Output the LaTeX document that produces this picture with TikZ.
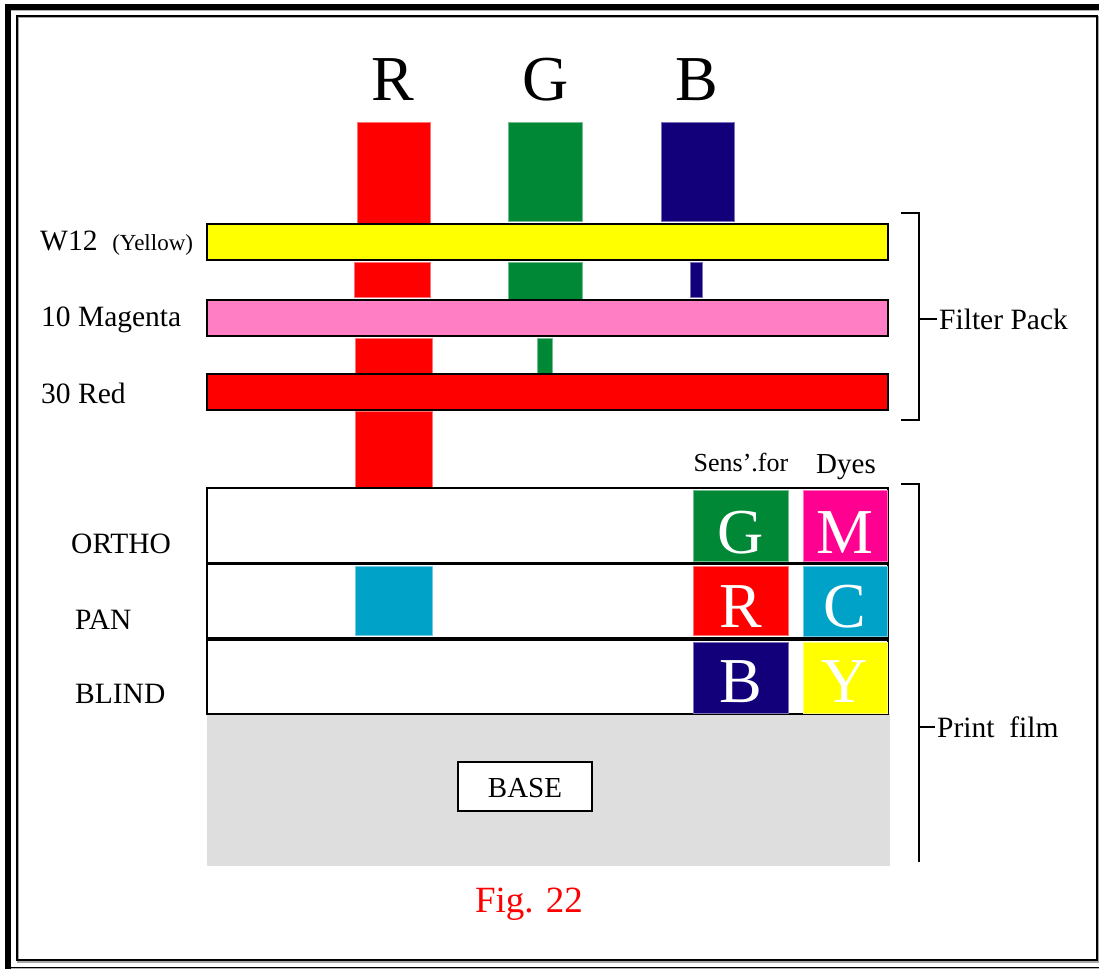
\documentclass[tikz,border=0pt]{standalone}
\usepackage{fontspec}
\setmainfont{Liberation Serif}
\definecolor{rred}{HTML}{FF0000}
\definecolor{ggreen}{HTML}{008837}
\definecolor{bblue}{HTML}{12007A}
\definecolor{yyel}{HTML}{FFFF00}
\definecolor{pinkf}{HTML}{FF7EC4}
\definecolor{magd}{HTML}{FF0090}
\definecolor{cyand}{HTML}{00A2C8}
\definecolor{basegray}{HTML}{DEDEDE}
\newcommand\fsz[1]{\fontsize{#1}{#1}\selectfont}
\tikzset{
  colbar/.style={fill=#1, draw=#1!55!white, line width=0.8pt},
  filterbar/.style={fill=#1, draw=black, line width=2pt},
  layer/.style={fill=white, draw=black, line width=2pt},
  lbl/.style={inner sep=0pt, anchor=base west, font=\fsz{29.5}},
  bigw/.style={inner sep=0pt, anchor=base, text=white, font=\fsz{64}},
  topl/.style={inner sep=0pt, anchor=base, font=\fsz{64}},
  brk/.style={draw=black, line width=1.6pt},
}
\begin{document}
\begin{tikzpicture}[x=1pt,y=-1pt]
\useasboundingbox (0,0) rectangle (1099,969);
% frame
\fill[black] (5,4) rectangle (1099,969);
\fill[white] (11,10) rectangle (1099,967);
\draw[gray!60, line width=1pt] (11,10.5) -- (1099,10.5);
\draw[gray!60, line width=1pt] (11,968) -- (1099,968);
\draw[gray!70, line width=2pt] (18,17) rectangle (1098,962);
\draw[black, line width=2pt] (17,16) rectangle (1097,960);

% top letters
\node[topl] (tR) at (393,100) {R};
\node[topl] (tG) at (546,100) {G};
\node[topl] (tB) at (697,100) {B};

% incoming light columns
\draw[colbar=rred] (357,122) rectangle (430,223);
\draw[colbar=ggreen] (508,122) rectangle (582,221);
\draw[colbar=bblue] (661,122) rectangle (734,221);
% after yellow
\draw[colbar=rred] (354,262) rectangle (430,297);
\draw[colbar=ggreen] (508,262) rectangle (582,299);
\draw[colbar=bblue] (690,262) rectangle (702,297);
% after magenta
\draw[colbar=rred] (355,338) rectangle (432,373);
\draw[colbar=ggreen] (537,338) rectangle (552,373);
% after red
\draw[colbar=rred] (355,411) rectangle (432,487);

% filter bars
\draw[filterbar=yyel] (207,224) rectangle (888,260);
\draw[filterbar=pinkf] (207,300) rectangle (888,336);
\draw[filterbar=rred] (207,374) rectangle (888,410);

\node[lbl] (w12) at (40,250) {W12\ \ {\fsz{23}(Yellow)}};
\node[lbl] (mag) at (41,326) {10 Magenta};
\node[lbl] (red) at (41,403) {30 Red};

% bracket filter pack
\draw[brk] (901,213) -- (919,213) -- (919,420) -- (901,420);
\draw[brk] (919,319) -- (937,319);
\node[lbl] (fp) at (939,329) {Filter Pack};

% print film
\fill[basegray] (207,714) rectangle (890,866);
\draw[layer] (207,488) rectangle (888,563);
\draw[layer] (207,564) rectangle (888,638);
\draw[layer] (207,640) rectangle (888,714);

\node[lbl] (ortho) at (71,553) {ORTHO};
\node[lbl] (pan) at (75,629) {PAN};
\node[lbl] (blind) at (75,703) {BLIND};

\draw[colbar=cyand] (355,566) rectangle (432,635);

\draw[colbar=ggreen] (693,490) rectangle (788,561);
\draw[colbar=magd] (803,490) rectangle (887,561);
\draw[colbar=rred] (693,566) rectangle (788,635);
\draw[colbar=cyand] (803,566) rectangle (887,636);
\draw[colbar=bblue] (693,642) rectangle (788,713);
\draw[colbar=yyel] (803,642) rectangle (887,713);
\node[bigw] (sG) at (741,553) {G};
\node[bigw] (dM) at (845,553) {M};
\node[bigw] (sR) at (741,627) {R};
\node[bigw] (dC) at (845,627) {C};
\node[bigw] (sB) at (741,702) {B};
\node[bigw] (dY) at (845,702) {Y};

\node[inner sep=0pt, anchor=base, font=\fsz{26}] (sens) at (741,471) {Sens'.for};
\node[inner sep=0pt, anchor=base, font=\fsz{29}] (dyes) at (846,473) {Dyes};

% bracket print film
\draw[brk] (901,484) -- (919,484) -- (919,862);
\draw[brk] (919,727) -- (935,727);
\node[lbl] (pf) at (937,737) {Print\ \ film};

% base
\node[draw=black, line width=1.5pt, fill=white, minimum width=134pt, minimum height=49pt, inner sep=0pt] (base) at (525,786.5) {};
\node[inner sep=0pt, anchor=base, font=\fsz{29}] (basetxt) at (525,797) {BASE};

\node[inner sep=0pt, anchor=base, text=red, font=\fsz{37}] (fig) at (529,912) {Fig. 22};
\end{tikzpicture}
\end{document}
